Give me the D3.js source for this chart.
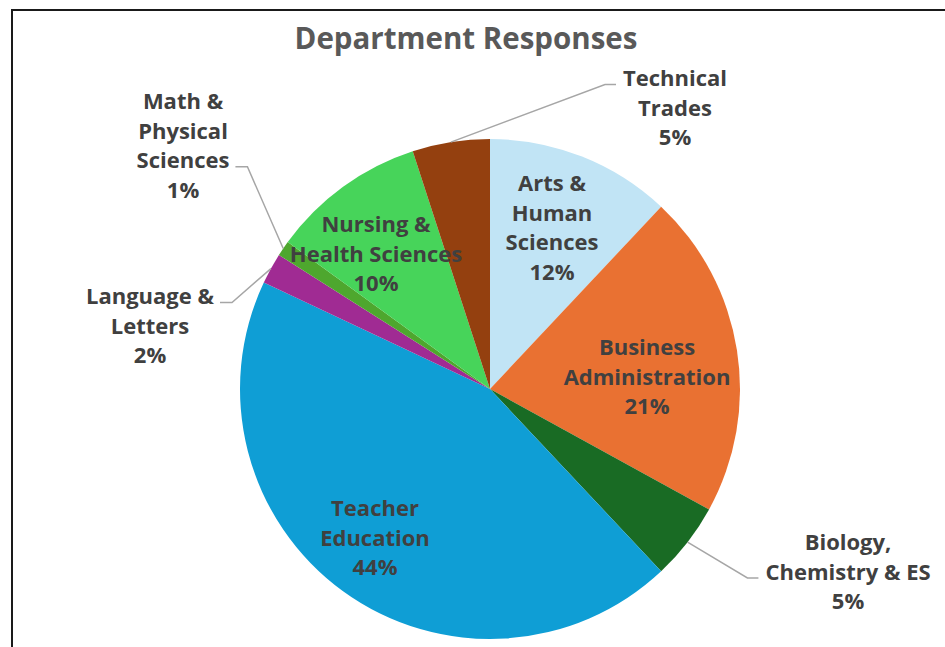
<!DOCTYPE html>
<html>
<head>
<meta charset="utf-8">
<script src="https://cdn.jsdelivr.net/npm/d3@7"></script>
<style>
  html, body { margin:0; padding:0; background:#fff; }
  svg { display:block; }
</style>
</head>
<body>
<div id="chart"></div>
<script>
// data
var categories = ["Arts & Human Sciences", "Business Administration", "Biology, Chemistry & ES",
  "Teacher Education", "Language & Letters", "Math & Physical Sciences",
  "Nursing & Health Sciences", "Technical Trades"];
var values = [12, 21, 5, 44, 2, 1, 10, 5];
var labelLines = [["Arts &", "Human", "Sciences"], ["Business", "Administration"], ["Biology,", "Chemistry & ES"],
  ["Teacher", "Education"], ["Language &", "Letters"], ["Math &", "Physical", "Sciences"],
  ["Nursing &", "Health Sciences"], ["Technical", "Trades"]];
var colors = ["#C1E4F5", "#E97132", "#196B24", "#0F9ED5", "#A02B93", "#4EA72E", "#47D45A", "#94400F"];

// label placement (in radius units from centre), outside labels get a leader line
var labelPos = [[0.248,-0.644],[0.628,-0.048],[1.432,0.732],[-0.46,0.596],
  [-1.36,-0.252],[-1.228,-0.972],[-0.456,-0.54],[0.74,-1.124]];
var leaderLine = [null, null, 1, null, 0, 2, null, 0]; // which text line the leader points at

var W = 945, H = 647;
var cx = 490, cy = 389, R = 250;
var lineH = 29.5;

var svg = d3.select("#chart").append("svg")
  .attr("width", W).attr("height", H)
  .style("font-family", "'Open Sans', sans-serif");

// chart frame
svg.append("path")
  .attr("d", "M12," + H + " V10 H" + W)
  .attr("fill", "none").attr("stroke", "#1a1a1a").attr("stroke-width", 2);

svg.append("text")
  .attr("x", 466).attr("y", 49)
  .attr("text-anchor", "middle")
  .attr("font-size", 29.5).attr("font-weight", 700)
  .attr("fill", "#595959")
  .text("Department Responses");

var total = d3.sum(values);
var pie = d3.pie().sort(null).value(function(d){ return d; });
var arc = d3.arc().innerRadius(0).outerRadius(R);
var arcs = pie(values);

var g = svg.append("g").attr("transform", "translate(" + cx + "," + cy + ")");

g.selectAll("path.slice")
  .data(arcs)
  .enter().append("path")
  .attr("class", "slice")
  .attr("d", arc)
  .attr("fill", function(d, i){ return colors[i]; });

var labels = g.selectAll("g.lab")
  .data(arcs)
  .enter().append("g")
  .attr("class", "lab");

labels.each(function(d, i){
  var lines = labelLines[i].concat([Math.round(d.value / total * 100) + "%"]);
  var lx = labelPos[i][0] * R, ly = labelPos[i][1] * R;
  var top = ly - (lines.length - 1) * lineH / 2;
  var t = d3.select(this).append("text")
    .attr("text-anchor", "middle")
    .attr("font-size", 22).attr("font-weight", 700)
    .attr("fill", "#404040");
  lines.forEach(function(s, k){
    t.append("tspan")
      .attr("x", lx).attr("y", top + k * lineH)
      .attr("dy", "0.35em")
      .text(s);
  });
  if (leaderLine[i] !== null) {
    var k = leaderLine[i];
    var w = 0;
    t.selectAll("tspan").each(function(s, j){ if (j === k) w = this.getComputedTextLength(); });
    var mid = (d.startAngle + d.endAngle) / 2;
    var p0 = [R * Math.sin(mid), -R * Math.cos(mid)];
    var right = lx > 0;
    var ey = top + k * lineH + 6;
    var ex = right ? lx - w / 2 - 7 : lx + w / 2 + 6;
    var elbow = right ? ex - 11 : ex + 12;
    d3.select(this).insert("path", "text")
      .attr("d", d3.line()([p0, [elbow, ey], [ex, ey]]))
      .attr("fill", "none").attr("stroke", "#A6A6A6").attr("stroke-width", 1.5);
  }
});
</script>
</body>
</html>
